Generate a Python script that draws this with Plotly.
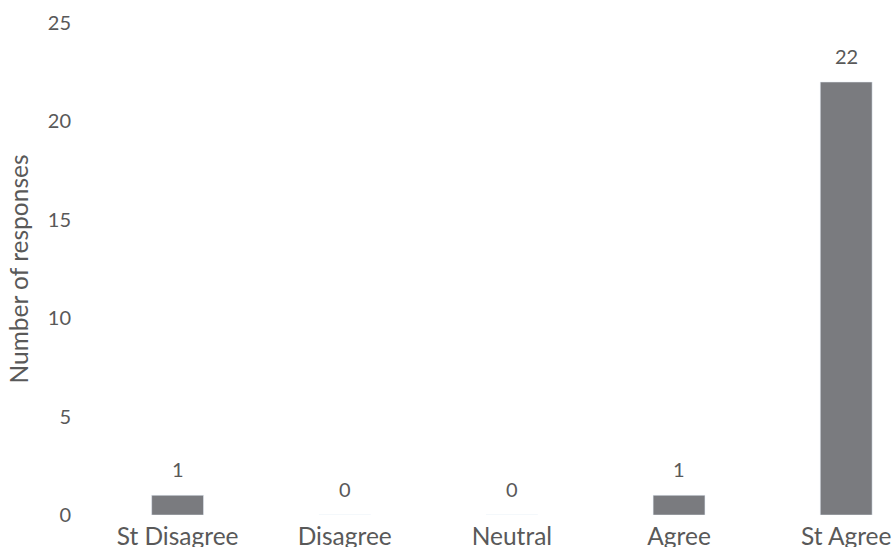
import plotly.graph_objects as go

categories = ["St Disagree", "Disagree", "Neutral", "Agree", "St Agree"]
responses = [1, 0, 0, 1, 22]
y_ticks = [0, 5, 10, 15, 20, 25]

TEXT = "#595959"
BAR = "#7a7b7f"
FONT = "Lato"

fig = go.Figure()
fig.add_trace(go.Bar(x=categories, y=responses, marker_color=BAR, width=0.31,
                     hoverinfo="skip"))

for c, v in zip(categories, responses):
    fig.add_annotation(x=c, y=v, text=str(v), showarrow=False, yanchor="bottom",
                       yshift=12, font=dict(family=FONT, size=20, color=TEXT))

fig.update_layout(
    width=893, height=547,
    margin=dict(l=94, r=0, t=23, b=32),
    paper_bgcolor="white", plot_bgcolor="white",
    showlegend=False,
    font=dict(family=FONT, size=20, color=TEXT),
    xaxis=dict(range=[-0.5, 4.28], showgrid=False, showline=False, zeroline=False,
               ticks="", ticklabelstandoff=4, automargin=False,
               tickfont=dict(family=FONT, size=24.5, color=TEXT)),
    yaxis=dict(range=[0, 25], tickvals=y_ticks, showgrid=False, showline=False,
               zeroline=False, ticks="", ticklabelstandoff=22, automargin=False,
               tickfont=dict(family=FONT, size=20, color=TEXT),
               title=dict(text="Number of responses", standoff=12,
                          font=dict(family=FONT, size=24.5, color=TEXT))),
)
fig.write_html("out.html")
